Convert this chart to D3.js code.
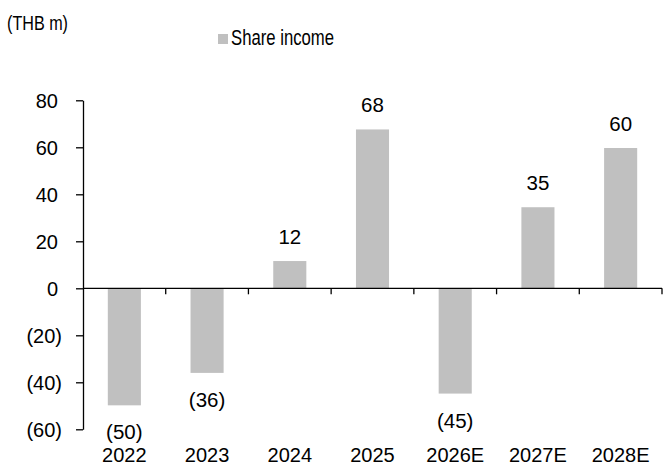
<!DOCTYPE html>
<html><head><meta charset="utf-8">
<script src="https://cdn.jsdelivr.net/npm/d3@7"></script>
<style>
body{margin:0;background:#fff;}
svg{display:block;}
text{font-family:"Liberation Sans",Arial,sans-serif;fill:#000;}
</style></head>
<body>
<svg id="c" width="664" height="466"></svg>
<script>
const categories = ["2022","2023","2024","2025","2026E","2027E","2028E"];
const values = [-49.8, -36.0, 11.6, 67.6, -44.8, 34.5, 59.7];
const valueLabels = ["(50)","(36)","12","68","(45)","35","60"];
const yTicks = [-60,-40,-20,0,20,40,60,80];
const seriesName = "Share income";
const unitLabel = "(THB m)";

const svg = d3.select("#c");
const x = d3.scaleBand().domain(categories).range([83, 662]).padding(0);
const y = d3.scaleLinear().domain([-60, 80]).range([429.3, 100.3]);
const barW = x.bandwidth() * 0.4;

svg.append("g").selectAll("rect").data(values).join("rect")
  .attr("x", (d,i) => x(categories[i]) + x.bandwidth()/2 - barW/2)
  .attr("width", barW)
  .attr("y", d => y(Math.max(0,d)))
  .attr("height", d => Math.abs(y(d) - y(0)))
  .attr("fill", "#c0c0c0");

// y axis
const fmt = d => d < 0 ? "(" + Math.abs(d) + ")" : String(d);
const ya = svg.append("g").attr("transform","translate(83,0)")
  .call(d3.axisLeft(y).tickValues(yTicks).tickFormat(fmt).tickSize(7).tickSizeOuter(0));
ya.select(".domain").attr("stroke","#000").attr("stroke-width",1.3);
ya.selectAll(".tick line").attr("stroke","#000").attr("stroke-width",1.3);
ya.selectAll(".tick text").attr("font-size",20).attr("font-family","'Liberation Sans',Arial,sans-serif")
  .attr("x", d => d < 0 ? -21 : -25).attr("dy","0.36em");

// x axis at zero
const xa = svg.append("g").attr("transform",`translate(0,${y(0)})`);
xa.append("line").attr("x1",83).attr("x2",662).attr("y1",0).attr("y2",0)
  .attr("stroke","#000").attr("stroke-width",1.3);
const bounds = categories.map(c => x(c)).concat([x(categories[categories.length-1]) + x.step()]);
xa.selectAll("line.t").data(bounds.slice(1)).join("line").attr("class","t")
  .attr("x1",d=>d).attr("x2",d=>d).attr("y1",0).attr("y2",6)
  .attr("stroke","#000").attr("stroke-width",1.3);

svg.append("g").selectAll("text").data(categories).join("text")
  .attr("x", d => x(d) + x.bandwidth()/2).attr("y", 462)
  .attr("text-anchor","middle").attr("font-size",20).text(d => d);

// data labels
svg.append("g").selectAll("text").data(values).join("text")
  .attr("x", (d,i) => x(categories[i]) + x.bandwidth()/2)
  .attr("y", d => d >= 0 ? y(d) - 17 : y(d) + 34)
  .attr("text-anchor","middle").attr("font-size",20.5)
  .text((d,i) => valueLabels[i]);

// unit label
svg.append("text").attr("x",7).attr("y",29.5).attr("font-size",21)
  .attr("textLength",61).attr("lengthAdjust","spacingAndGlyphs").text(unitLabel);

// legend
svg.append("rect").attr("x",218).attr("y",34).attr("width",10).attr("height",10).attr("fill","#c0c0c0");
svg.append("text").attr("x",231).attr("y",45).attr("font-size",21.5)
  .attr("textLength",103).attr("lengthAdjust","spacingAndGlyphs").text(seriesName);
</script>
</body></html>
